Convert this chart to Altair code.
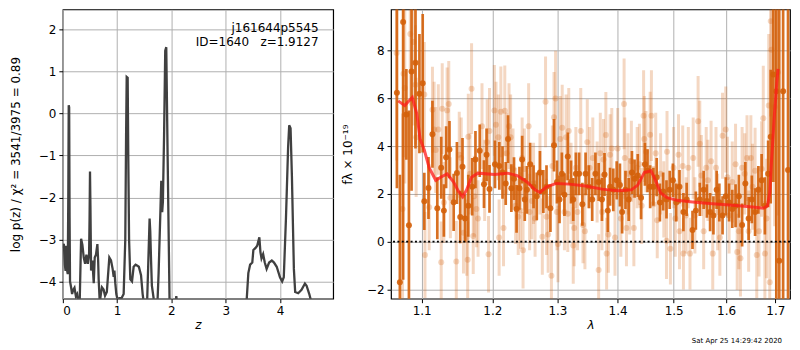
import altair as alt
import pandas as pd

# ---------------- left panel: log p(z) ----------------
z_vals = [0.000, 0.018, 0.037, 0.050, 0.058, 0.067, 0.080, 0.090, 0.100, 0.108,
          0.116, 0.124, 0.132, 0.153, 0.170, 0.190, 0.214, 0.240, 0.263, 0.290,
          0.310, 0.336, 0.360, 0.385, 0.410, 0.434, 0.460, 0.483, 0.492, 0.500,
          0.508, 0.520, 0.544, 0.569, 0.587, 0.610, 0.636, 0.650, 0.660, 0.680,
          0.700, 0.720, 0.750, 0.777, 0.810, 0.835, 0.856, 0.887, 0.917, 0.936,
          0.950, 0.966, 0.985, 1.010, 1.040, 1.080, 1.120, 1.150, 1.165, 1.176,
          1.194, 1.205, 1.220, 1.243, 1.274, 1.304, 1.340, 1.366, 1.400, 1.440,
          1.470, 1.500, 1.550, 1.575, 1.598, 1.610, 1.625, 1.640, 1.672, 1.700,
          1.740, 1.764, 1.800, 1.813, 1.830, 1.843, 1.865, 1.886, 1.905, 1.930,
          1.966, 2.000, 2.070, 2.090, 2.110, 3.370, 3.386, 3.417, 3.450, 3.490,
          3.510, 3.550, 3.580, 3.620, 3.640, 3.660, 3.690, 3.720, 3.754, 3.800,
          3.850, 3.890, 3.940, 4.000, 4.040, 4.070, 4.110, 4.150, 4.170, 4.195,
          4.220, 4.256, 4.280, 4.336, 4.397, 4.460, 4.490, 4.540, 4.580, 4.620]
logp_vals = [-3.20, -3.10, -3.60, -3.75, -3.15, -3.25, -3.75, -3.82, -2.00, 0.20,
             0.15, -2.50, -4.00, -4.15, -4.30, -4.20, -4.15, -4.35, -4.30, -4.55,
             -4.50, -2.98, -3.13, -3.43, -3.58, -3.36, -3.58, -3.36, -2.50, -1.38,
             -2.20, -3.74, -3.50, -4.04, -3.43, -3.36, -3.11, -3.50, -3.96, -4.50,
             -4.30, -4.14, -4.19, -4.34, -4.25, -3.80, -3.43, -3.50, -3.70, -3.89,
             -3.74, -4.04, -4.30, -4.45, -4.40, -4.40, -4.30, -3.00, -0.50, 0.87,
             0.85, -1.00, -3.00, -3.95, -4.00, -3.65, -3.60, -3.62, -3.65, -3.85,
             -4.30, -4.60, -4.60, -3.50, -2.50, -2.80, -3.50, -4.10, -4.40, -4.60,
             -4.60, -3.80, -2.20, -1.60, -2.35, -2.10, -0.50, 1.50, 1.58, -1.00,
             -4.50, -4.60, -4.60, -4.35, -4.60, -4.60, -4.45, -3.80, -3.60, -3.55,
             -3.25, -3.20, -3.15, -2.95, -3.30, -3.45, -3.35, -3.55, -3.70, -3.55,
             -3.50, -3.55, -3.65, -3.90, -4.00, -3.90, -2.50, -0.80, -0.28, -0.35,
             -1.50, -3.70, -4.25, -4.28, -4.20, -4.05, -4.10, -4.30, -4.50, -4.60]
ann_text = ["j161644p5545", "ID=1640\u00a0\u00a0\u00a0z=1.9127"]
ann_z = [4.71, 4.71]
ann_logp = [2.04, 1.71]

# ---------------- right panel: spectrum ----------------
model_lam = [1.0687, 1.0773, 1.0816, 1.0874, 1.0934, 1.0979, 1.1036, 1.1102, 1.1192, 1.1260,
             1.1350, 1.1441, 1.1511, 1.1570, 1.1626, 1.1696, 1.1791, 1.2030, 1.2225, 1.2372,
             1.2522, 1.2648, 1.2724, 1.2827, 1.2982, 1.3192, 1.3459, 1.3733, 1.4011, 1.4238,
             1.4352, 1.4468, 1.4586, 1.4643, 1.4762, 1.4879, 1.5061, 1.5305, 1.5612, 1.5930,
             1.6253, 1.6580, 1.6750, 1.6836, 1.6883, 1.6919, 1.6973, 1.7021, 1.7055]
model_flux = [5.90, 5.70, 5.85, 6.04, 5.37, 4.30, 3.84, 3.10, 2.57, 2.70,
              2.84, 2.50, 2.10, 1.88, 2.17, 2.70, 2.87, 2.81, 2.87, 2.77,
              2.50, 2.17, 2.06, 2.30, 2.44, 2.41, 2.33, 2.20, 2.13, 2.17,
              2.37, 2.90, 2.97, 2.70, 2.04, 1.84, 1.73, 1.67, 1.61, 1.56,
              1.50, 1.44, 1.40, 1.50, 2.04, 3.37, 5.10, 6.44, 7.24]

dark_lam = [1.0670, 1.0709, 1.0752, 1.0795, 1.0829, 1.0864, 1.0917, 1.0970, 1.1014, 1.1036,
            1.1093, 1.1147, 1.1214, 1.1268, 1.1305, 1.1336, 1.1383, 1.1442, 1.1488, 1.1535,
            1.1567, 1.1604, 1.1650, 1.1706, 1.1753, 1.1815, 1.1877, 1.1915, 1.1958, 1.2039,
            1.2103, 1.2151, 1.2199, 1.2234, 1.2284, 1.2324, 1.2363, 1.2407, 1.2448, 1.2488,
            1.2522, 1.2572, 1.2624, 1.2674, 1.2724, 1.2777, 1.2827, 1.2889, 1.2946, 1.2993,
            1.3034, 1.3072, 1.3113, 1.3167, 1.3220, 1.3256, 1.3299, 1.3352, 1.3406, 1.3459,
            1.3513, 1.3569, 1.3623, 1.3677, 1.3733, 1.3776, 1.3832, 1.3871, 1.3926, 1.3984,
            1.4040, 1.4078, 1.4136, 1.4192, 1.4249, 1.4295, 1.4352, 1.4410, 1.4479, 1.4525,
            1.4572, 1.4630, 1.4690, 1.4748, 1.4807, 1.4868, 1.4927, 1.4986, 1.5048, 1.5108,
            1.5181, 1.5242, 1.5352, 1.5415, 1.5490, 1.5564, 1.5626, 1.5688, 1.5752, 1.5815,
            1.5867, 1.5930, 1.5993, 1.6059, 1.6122, 1.6187, 1.6253, 1.6318, 1.6383, 1.6450,
            1.6515, 1.6581, 1.6648, 1.6715, 1.6782, 1.6850, 1.6903, 1.6958, 1.7020, 1.7081,
            1.7163, 1.7267]
dark_flux = [6.24, -1.70, 9.20, 5.33, 0.69, 7.13, 7.50, 6.20, 6.64, 1.69,
             2.25, 4.50, 1.40, 3.10, 1.30, 3.54, 3.86, 1.65, 2.88, 1.03,
             3.14, 0.97, 1.50, 2.30, 3.44, 3.81, 2.41, 3.64, 2.21, 3.24,
             3.17, 2.90, 2.44, 4.30, 2.24, 2.64, 1.37, 2.24, 3.44, 1.77,
             2.17, 3.24, 2.30, 1.90, 2.90, 2.10, 2.30, 1.40, 4.04, 2.50,
             1.77, 2.84, 1.97, 3.57, 2.50, 1.77, 2.84, 2.84, 1.57, 2.84,
             2.30, 1.77, 2.84, 2.50, 1.77, 2.81, 1.30, 2.30, 2.17, 2.57,
             2.37, 1.24, 2.17, 1.77, 2.90, 2.64, 2.77, 1.84, 3.24, 2.97,
             2.30, 2.30, 2.70, 1.64, 2.10, 1.77, 2.17, 2.57, 1.64, 2.30,
             1.24, 1.77, 0.49, 1.30, 1.77, 2.17, 1.70, 1.24, 1.10, 2.17,
             1.64, 1.10, 1.90, 1.64, 1.37, 1.50, 1.90, 0.70, 2.44, 0.97,
             1.77, 1.24, 2.17, 2.57, 1.50, 2.84, 4.40, 7.00, 6.30, -0.80,
             6.30, 3.00]
dark_err = [4.0, 4.5, 10.8, 1.9, 4.8, 5.0, 3.6, 2.5, 2.9, 1.2,
            1.3, 1.4, 1.3, 1.3, 1.1, 1.3, 1.2, 1.2, 1.3, 1.1,
            1.2, 1.0, 1.3, 1.2, 1.2, 1.1, 1.0, 1.1, 1.0, 1.0,
            1.0, 1.1, 0.9, 1.0, 1.0, 0.9, 1.0, 0.9, 1.0, 0.9,
            1.0, 0.9, 0.9, 1.0, 0.9, 0.9, 0.9, 1.0, 1.1, 0.9,
            1.0, 0.9, 0.9, 1.0, 0.9, 0.9, 0.9, 0.9, 0.9, 0.9,
            0.9, 0.9, 0.9, 0.8, 0.9, 0.9, 0.9, 0.8, 0.9, 0.8,
            0.9, 0.9, 0.8, 0.9, 0.9, 0.8, 0.9, 0.9, 0.9, 0.9,
            0.9, 0.8, 0.8, 0.8, 0.8, 0.8, 0.8, 0.7, 0.8, 0.7,
            0.8, 0.7, 0.8, 0.8, 0.7, 0.8, 0.7, 0.8, 0.8, 0.8,
            0.8, 0.8, 0.8, 0.8, 0.8, 0.9, 0.9, 0.9, 0.9, 0.9,
            1.0, 1.0, 1.0, 1.1, 1.2, 1.4, 2.8, 4.5, 9.0, 12.0,
            14.0, 15.0]

light_lam = [1.0666, 1.0744, 1.0757, 1.0774, 1.0847, 1.0891, 1.0917, 1.0926, 1.1036, 1.1045,
             1.1102, 1.1147, 1.1170, 1.1192, 1.1228, 1.1268, 1.1282, 1.1305, 1.1350, 1.1373,
             1.1396, 1.1479, 1.1521, 1.1549, 1.1581, 1.1627, 1.1641, 1.1650, 1.1674, 1.1697,
             1.1721, 1.1735, 1.1767, 1.1791, 1.1848, 1.1887, 1.1924, 1.1944, 1.1958, 1.2030,
             1.2054, 1.2088, 1.2100, 1.2126, 1.2166, 1.2185, 1.2214, 1.2249, 1.2273, 1.2309,
             1.2348, 1.2388, 1.2422, 1.2448, 1.2462, 1.2482, 1.2548, 1.2563, 1.2598, 1.2624,
             1.2648, 1.2724, 1.2761, 1.2812, 1.2827, 1.2853, 1.2905, 1.2920, 1.2946, 1.2971,
             1.2993, 1.3009, 1.3045, 1.3077, 1.3113, 1.3140, 1.3167, 1.3183, 1.3220, 1.3256,
             1.3272, 1.3299, 1.3326, 1.3379, 1.3416, 1.3448, 1.3487, 1.3525, 1.3579, 1.3651,
             1.3677, 1.3705, 1.3733, 1.3759, 1.3799, 1.3812, 1.3842, 1.3871, 1.3900, 1.3955,
             1.4001, 1.4056, 1.4112, 1.4124, 1.4153, 1.4180, 1.4210, 1.4239, 1.4283, 1.4341,
             1.4381, 1.4421, 1.4455, 1.4467, 1.4497, 1.4572, 1.4595, 1.4630, 1.4672, 1.4700,
             1.4761, 1.4819, 1.4868, 1.4878, 1.4940, 1.4999, 1.5030, 1.5090, 1.5108, 1.5168,
             1.5181, 1.5231, 1.5273, 1.5304, 1.5365, 1.5397, 1.5458, 1.5490, 1.5520, 1.5564,
             1.5613, 1.5645, 1.5707, 1.5739, 1.5802, 1.5835, 1.5878, 1.5930, 1.5993, 1.6026,
             1.6059, 1.6122, 1.6187, 1.6220, 1.6253, 1.6285, 1.6318, 1.6371, 1.6417, 1.6450,
             1.6495, 1.6529, 1.6581, 1.6615, 1.6661, 1.6715, 1.6749, 1.6782, 1.6816, 1.6862,
             1.6883, 1.6903, 1.6917, 1.6985, 1.7054]
light_flux = [7.90, 1.37, 7.04, 6.44, 8.70, 8.37, 6.57, 4.37, 6.17, -0.56,
              1.44, 5.53, 4.70, 3.84, 4.70, -0.86, 5.57, 1.64, 5.50, 5.77,
              1.84, -0.83, 3.64, 3.50, 0.37, 0.17, -0.76, 4.40, 2.84, 6.41,
              0.24, 1.90, 1.37, 0.97, 4.84, 2.57, 4.17, -0.53, 4.64, 5.50,
              4.90, 4.37, 0.17, 5.44, 0.57, 5.48, 3.70, 4.84, 4.37, 3.04,
              1.50, 1.04, 1.30, 3.50, -0.36, 3.04, 4.84, 1.24, 1.70, 2.44,
              0.97, 2.84, 0.21, 5.86, 1.04, 0.30, -1.43, 3.17, 5.21, 6.00,
              1.24, -0.10, 4.30, 4.77, 1.24, 4.37, 1.17, 4.64, 2.44, -0.16,
              0.57, 3.10, 1.24, 4.64, 0.70, 0.44, 4.17, 3.10, 3.50, 2.50,
              -1.19, 3.70, 1.24, 3.44, 4.47, -0.50, 0.30, 3.64, 3.90, 0.17,
              3.90, 0.97, 5.77, 3.50, 0.57, 2.84, 1.90, 3.37, 0.57, 3.10,
              3.24, 1.50, 5.28, 4.30, 3.77, 4.48, 5.28, 1.57, 3.70, 0.90,
              2.84, 1.77, 0.04, 3.77, -0.30, 3.10, 0.97, 3.64, 0.44, 3.17,
              -0.50, 1.10, 3.10, -0.50, 3.50, 1.10, 5.04, 4.10, 2.77, 0.44,
              3.10, 2.57, 3.37, -0.50, 3.10, 1.24, 0.17, 4.44, 4.70, 2.70,
              1.10, 2.50, 3.24, -0.43, 0.44, -0.70, 3.10, 2.84, 3.50, 0.44,
              3.50, 2.30, 2.97, -0.56, 0.44, 3.04, 5.17, -0.50, 0.97, 5.70,
              -1.70, 9.24, 8.04, 5.64, 7.10]
light_err = [4.5, 4.0, 3.5, 4.0, 3.0, 3.5, 2.5, 2.5, 2.2, 1.8,
             1.8, 1.8, 2.0, 1.8, 1.9, 1.7, 1.9, 1.7, 1.8, 1.8,
             1.7, 1.7, 1.8, 1.7, 1.7, 1.6, 1.6, 1.8, 1.7, 1.9,
             1.6, 1.7, 1.6, 1.6, 1.8, 1.7, 1.8, 1.6, 1.8, 1.9,
             1.8, 1.8, 1.6, 1.9, 1.6, 1.9, 1.7, 1.8, 1.8, 1.7,
             1.6, 1.6, 1.6, 1.7, 1.6, 1.7, 1.8, 1.6, 1.6, 1.7,
             1.6, 1.7, 1.6, 1.9, 1.6, 1.6, 1.5, 1.7, 1.9, 2.0,
             1.6, 1.6, 1.8, 1.8, 1.6, 1.8, 1.6, 1.8, 1.7, 1.6,
             1.6, 1.7, 1.6, 1.8, 1.6, 1.6, 1.8, 1.7, 1.7, 1.7,
             1.5, 1.7, 1.6, 1.7, 1.8, 1.5, 1.6, 1.7, 1.7, 1.6,
             1.7, 1.6, 1.9, 1.7, 1.6, 1.7, 1.6, 1.7, 1.6, 1.7,
             1.7, 1.6, 1.9, 1.8, 1.7, 1.8, 1.9, 1.6, 1.7, 1.6,
             1.7, 1.6, 1.6, 1.7, 1.5, 1.7, 1.6, 1.7, 1.6, 1.7,
             1.5, 1.6, 1.7, 1.5, 1.7, 1.6, 1.9, 1.8, 1.7, 1.6,
             1.7, 1.7, 1.7, 1.5, 1.7, 1.6, 1.6, 1.8, 1.8, 1.7,
             1.6, 1.7, 1.7, 1.6, 1.6, 1.6, 1.7, 1.7, 1.8, 1.7,
             1.8, 1.8, 1.8, 1.8, 1.9, 2.0, 2.2, 2.2, 2.5, 3.0,
             3.5, 4.0, 4.0, 5.0, 6.0]
stamp_text = ["Sat Apr 25 14:29:42 2020"]

# ---------------- tables ----------------
pz = pd.DataFrame({"z": z_vals, "logp": logp_vals})
ann = pd.DataFrame({"z": ann_z, "logp": ann_logp, "t": ann_text})
model = pd.DataFrame({"lam": model_lam, "flux": model_flux})
dark = pd.DataFrame({"lam": dark_lam, "flux": dark_flux,
                     "lo": [f - e for f, e in zip(dark_flux, dark_err)],
                     "hi": [f + e for f, e in zip(dark_flux, dark_err)]})
light = pd.DataFrame({"lam": light_lam, "flux": light_flux,
                      "lo": [f - e for f, e in zip(light_flux, light_err)],
                      "hi": [f + e for f, e in zip(light_flux, light_err)]})
zero = pd.DataFrame({"flux": [0.0]})
stamp = pd.DataFrame({"t": stamp_text})

FONT = "DejaVu Sans"
H = 290

# left scales / axes
xs_l = alt.Scale(domain=[0, 4.98], nice=False, zero=False)
ys_l = alt.Scale(domain=[-4.41, 2.48], nice=False, zero=False)
ax_xl = alt.Axis(values=[0, 1, 2, 3, 4], format="d", title="z",
                 titleFontStyle="italic", titlePadding=3)
ax_yl = alt.Axis(values=[-4, -3, -2, -1, 0, 1, 2], format="d",
                 title="log p(z) / χ² = 3541/3975 = 0.89", titlePadding=16)

left_line = alt.Chart(pz).mark_line(color="#404040", strokeWidth=2.3, clip=True).encode(
    x=alt.X("z:Q", scale=xs_l, axis=ax_xl),
    y=alt.Y("logp:Q", scale=ys_l, axis=ax_yl),
)
left_ann = alt.Chart(ann).mark_text(align="right", baseline="middle", fontSize=12,
                                    font=FONT, color="black").encode(
    x=alt.X("z:Q", scale=xs_l, axis=ax_xl),
    y=alt.Y("logp:Q", scale=ys_l, axis=ax_yl),
    text="t:N",
)
left = alt.layer(left_line, left_ann).properties(width=271, height=H)

# right scales / axes
xs_r = alt.Scale(type="log", domain=[1.0593, 1.7309], nice=False)
ys_r = alt.Scale(domain=[-2.39, 9.73], nice=False, zero=False)
ax_xr = alt.Axis(values=[1.1, 1.2, 1.3, 1.4, 1.5, 1.6, 1.7], format=".1f", title="λ",
                 titleFontStyle="italic", titlePadding=3)
ax_yr = alt.Axis(values=[-2, 0, 2, 4, 6, 8], format="d", title="fλ × 10⁻¹⁹",
                 titlePadding=12)

ORANGE = "#d4600a"


def xr(field="lam"):
    return alt.X(f"{field}:Q", scale=xs_r, axis=ax_xr)


def yr(field="flux"):
    return alt.Y(f"{field}:Q", scale=ys_r, axis=ax_yr)


light_bars = alt.Chart(light).mark_rule(color=ORANGE, opacity=0.25, strokeWidth=3, clip=True).encode(
    x=xr(), y=yr("lo"), y2="hi:Q")
light_pts = alt.Chart(light).mark_circle(color=ORANGE, opacity=0.25, size=36, clip=True).encode(
    x=xr(), y=yr())
dark_bars = alt.Chart(dark).mark_rule(color=ORANGE, opacity=0.9, strokeWidth=2.7, clip=True).encode(
    x=xr(), y=yr("lo"), y2="hi:Q")
dark_pts = alt.Chart(dark).mark_circle(color=ORANGE, opacity=0.9, size=36, clip=True).encode(
    x=xr(), y=yr())
model_line = alt.Chart(model).mark_line(color="#ff1a1a", opacity=0.75, strokeWidth=3, clip=True).encode(
    x=xr(), y=yr())
zero_line = alt.Chart(zero).mark_rule(color="black", strokeWidth=1.8, strokeDash=[2, 2.4]).encode(
    y=yr())
stamp_txt = alt.Chart(stamp).mark_text(align="right", baseline="middle", fontSize=7,
                                        font=FONT, color="black").encode(
    x=alt.value(392), y=alt.value(332), text="t:N")

right = alt.layer(light_bars, light_pts, dark_bars, dark_pts, model_line, zero_line,
                  stamp_txt).properties(width=400, height=H)

chart = alt.hconcat(left, right, spacing=6).properties(
    padding={"left": 0, "top": 0, "right": 0, "bottom": 0}
).configure_axis(
    labelFont=FONT, titleFont=FONT, labelFontSize=12, titleFontSize=12,
    labelColor="black", titleColor="black", tickColor="black", tickSize=4,
    tickWidth=1, labelPadding=3, domain=False, grid=True, gridColor="#b0b0b0",
    gridWidth=1, titleFontWeight="normal",
).configure_view(stroke="black", strokeWidth=1.2)

chart.save("out.html", embed_options={"renderer": "svg", "actions": False})
